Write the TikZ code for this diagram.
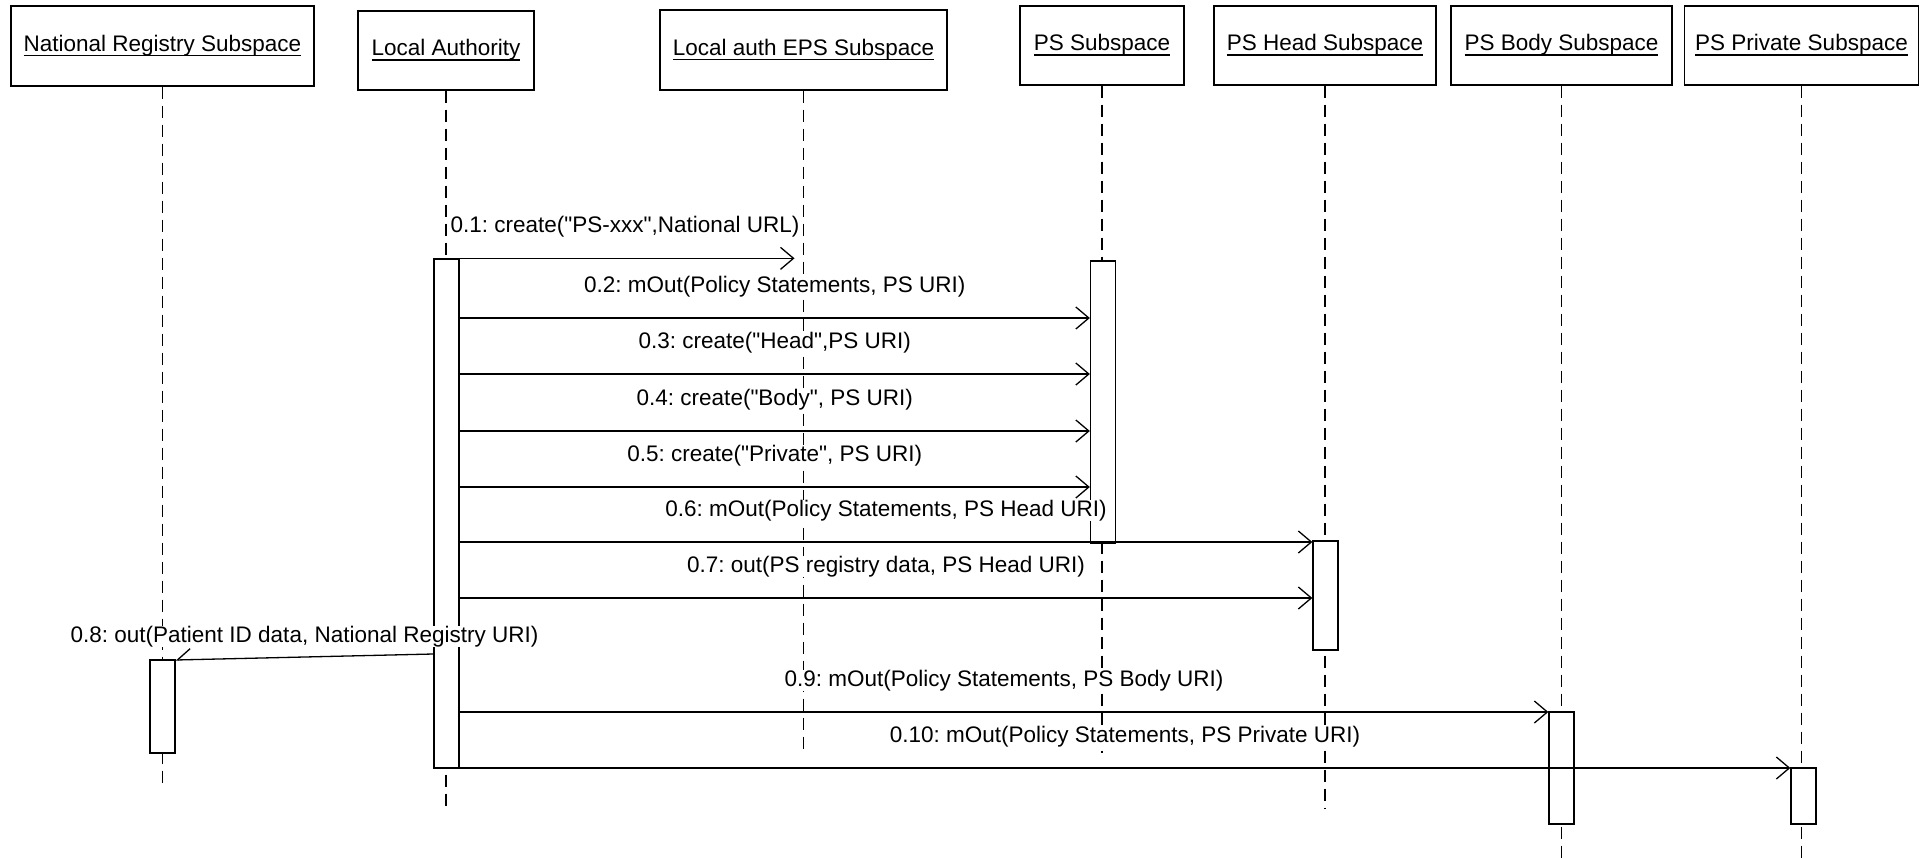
\documentclass[tikz,border=0pt]{standalone}
\usepackage{fontspec}
\setmainfont{Liberation Sans}[Ligatures=TeXOff]
\usetikzlibrary{arrows.meta}
\frenchspacing
\newsavebox\ulbox
\newcommand{\myul}[1]{\sbox\ulbox{#1}\rlap{\rule[-4.7pt]{\wd\ulbox}{1.4pt}}\usebox\ulbox}
\tikzset{
  obj/.style={draw, line width=1.3pt, rectangle, inner sep=0pt, text height=17pt, text depth=6pt, align=center, fill=white},
  act/.style={draw, line width=1.3pt, fill=white, rectangle, minimum width=25pt, inner sep=0pt},
  life/.style={dash pattern=on 12pt off 7pt, line width=1.3pt},
  msg/.style={line width=1.3pt, -{Straight Barb[length=13pt,width=22pt]}},
  halfmsg/.style={line width=1.3pt, -{Straight Barb[length=13pt,width=22pt,right]}},
  lbl/.style={anchor=base, inner sep=0pt, fill=white, yshift=26pt}
}
\begin{document}
\begin{tikzpicture}[x=1pt,y=-1pt,font=\fontsize{22.5}{27}\selectfont\frenchspacing]
\useasboundingbox (0,0) rectangle (1930,859);
% object boxes
\node[obj, minimum width=303pt, minimum height=80pt] (bNR) at (162.5,46) {\myul{National Registry Subspace}};
\node[obj, minimum width=176pt, minimum height=79pt] (bLA) at (446,50.5) {\myul{Local Authority}};
\node[obj, minimum width=287pt, minimum height=80pt] (bEPS) at (803.5,50) {\myul{Local auth EPS Subspace}};
\node[obj, minimum width=164pt, minimum height=79pt] (bPS) at (1102,45.5) {\myul{PS Subspace}};
\node[obj, minimum width=222pt, minimum height=79pt] (bHead) at (1325,45.5) {\myul{PS Head Subspace}};
\node[obj, minimum width=221pt, minimum height=79pt] (bBody) at (1561.5,45.5) {\myul{PS Body Subspace}};
\node[obj, minimum width=234pt, minimum height=79pt] (bPriv) at (1801.5,45.5) {\myul{PS Private Subspace}};
% lifeline ends
\coordinate (eNR) at (0,788);
\coordinate (eLA) at (0,809);
\coordinate (eEPS) at (0,753);
\coordinate (ePS) at (0,753);
\coordinate (eHead) at (0,809);
\coordinate (eBody) at (0,859);
\coordinate (ePriv) at (0,859);
\draw[life] (bNR.south) -- (bNR.south |- eNR);
\draw[life] (bLA.south) -- (bLA.south |- eLA);
\draw[life] (bEPS.south) -- (bEPS.south |- eEPS);
\draw[life] (bPS.south) -- (bPS.south |- ePS);
\draw[life] (bHead.south) -- (bHead.south |- eHead);
\draw[life] (bBody.south) -- (bBody.south |- eBody);
\draw[life] (bPriv.south) -- (bPriv.south |- ePriv);
% activations
\node[act, minimum height=509pt] (aLA) at (446.5,513.5) {};
\node[act, minimum height=282pt] (aPS) at (1103,402) {};
\node[act, minimum height=109pt] (aHead) at (1325.5,595.5) {};
\node[act, minimum height=93pt] (aNR) at (162.5,706.5) {};
\node[act, minimum height=112pt] (aBody) at (1561.5,768) {};
\node[act, minimum height=56pt] (aPriv) at (1803.5,796) {};
% message levels
\coordinate (y2) at (0,318);
\coordinate (y3) at (0,374);
\coordinate (y4) at (0,431);
\coordinate (y5) at (0,487);
\coordinate (y6) at (0,542);
\coordinate (y7) at (0,598);
\coordinate (y8a) at (0,654);
\coordinate (y8b) at (0,660);
\coordinate (y9) at (0,712);
\coordinate (y10) at (0,768);
% messages
\draw[msg, shorten >=9pt] (aLA.north) -- (bEPS.south |- aLA.north)
  node[lbl, midway] {0.1: create("PS-xxx",National URL)};
\draw[msg] (aLA.east |- y2) -- (aPS.west |- y2)
  node[lbl, midway] {0.2: mOut(Policy Statements, PS URI)};
\draw[msg] (aLA.east |- y3) -- (aPS.west |- y3)
  node[lbl, midway] {0.3: create("Head",PS URI)};
\draw[msg] (aLA.east |- y4) -- (aPS.west |- y4)
  node[lbl, midway] {0.4: create("Body", PS URI)};
\draw[msg] (aLA.east |- y5) -- (aPS.west |- y5)
  node[lbl, midway] {0.5: create("Private", PS URI)};
\draw[msg] (aLA.east |- y6) -- (aHead.west |- y6)
  node[lbl, midway] {0.6: mOut(Policy Statements, PS Head URI)};
\draw[msg] (aLA.east |- y7) -- (aHead.west |- y7)
  node[lbl, midway] {0.7: out(PS registry data, PS Head URI)};
\draw[halfmsg] (aLA.west |- y8a) -- (aNR.east |- y8b)
  node[lbl, midway, yshift=-11pt] {0.8: out(Patient ID data, National Registry URI)};
\draw[msg] (aLA.east |- y9) -- (aBody.west |- y9)
  node[lbl, midway] {0.9: mOut(Policy Statements, PS Body URI)};
\draw[msg] (aLA.east |- y10) -- (aPriv.west |- y10)
  node[lbl, midway] {0.10: mOut(Policy Statements, PS Private URI)};
\end{tikzpicture}
\end{document}
